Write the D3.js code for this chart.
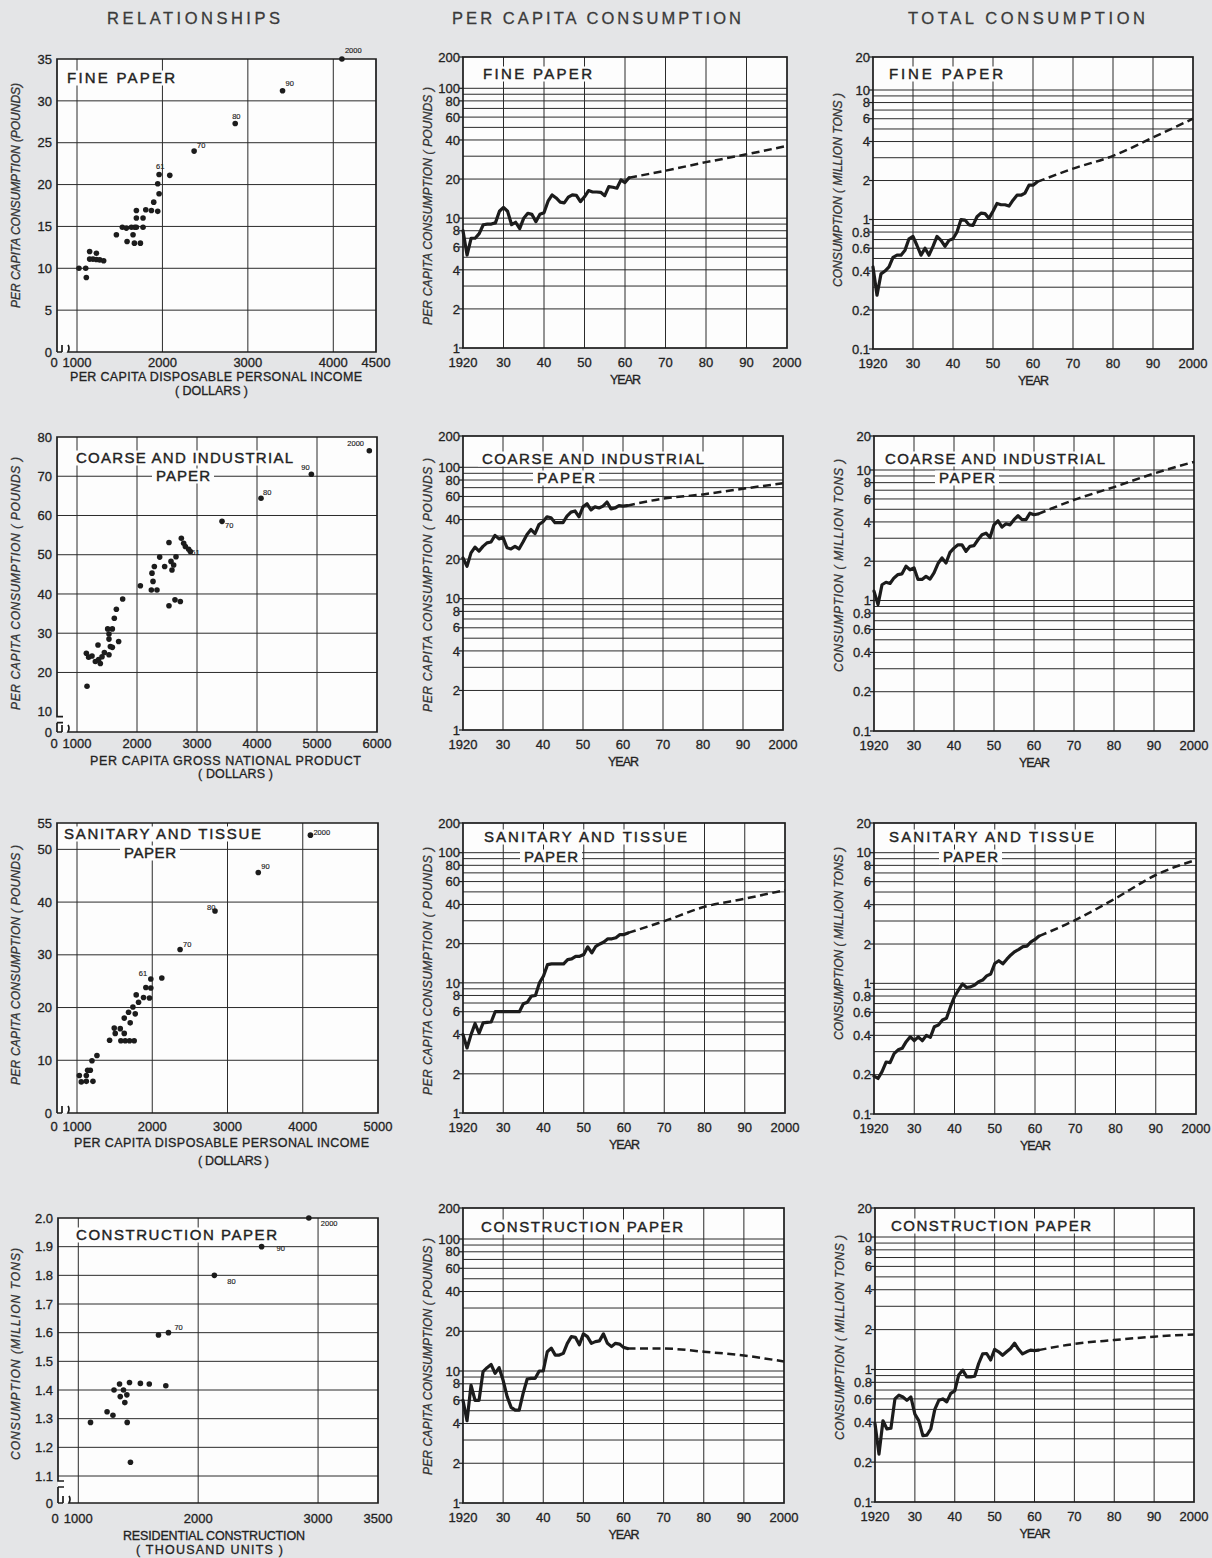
<!DOCTYPE html>
<html><head><meta charset="utf-8">
<script src="https://cdn.jsdelivr.net/npm/d3@7"></script>
<style>
html,body{margin:0;padding:0;background:#e4e5e7;}
svg{display:block;}
text{font-family:"Liberation Sans",Arial,sans-serif;fill:#222;stroke:#222;stroke-width:0.3px;}
</style></head><body>
<svg id="chart" width="1212" height="1558"></svg>
<script>
// ---------------- DATA ----------------
const columnHeaders = ["RELATIONSHIPS", "PER CAPITA CONSUMPTION", "TOTAL CONSUMPTION"];

const yearTicks = [1920, 1930, 1940, 1950, 1960, 1970, 1980, 1990, 2000];
const yearTickLabels = ["1920", "30", "40", "50", "60", "70", "80", "90", "2000"];
const histYears = [1920,1921,1922,1923,1924,1925,1926,1927,1928,1929,1930,1931,1932,1933,1934,1935,1936,1937,1938,1939,1940,1941,1942,1943,1944,1945,1946,1947,1948,1949,1950,1951,1952,1953,1954,1955,1956,1957,1958,1959,1960,1961];
const projYears = [1961, 1970, 1980, 1990, 2000];

const perCapitaTicks = [200, 100, 80, 60, 40, 20, 10, 8, 6, 4, 2, 1];
const perCapitaTickLabels = ["200", "100", "80", "60", "40", "20", "10", "8", "6", "4", "2", "1"];
const perCapitaGrid = [2, 3, 4, 5, 6, 7, 8, 9, 10, 20, 30, 40, 50, 60, 70, 80, 90, 100];
const totalTicks = [20, 10, 8, 6, 4, 2, 1, 0.8, 0.6, 0.4, 0.2, 0.1];
const totalTickLabels = ["20", "10", "8", "6", "4", "2", "1", "0.8", "0.6", "0.4", "0.2", "0.1"];
const totalGrid = [0.2, 0.3, 0.4, 0.5, 0.6, 0.7, 0.8, 0.9, 1, 2, 3, 4, 5, 6, 7, 8, 9, 10];

// Per capita (pounds) and total (million tons), 1920-1961, plus projections
const fineCapHist = [8.0,5.2,7.0,7.0,7.6,8.9,9.0,9.0,9.2,11.3,12.1,11.3,8.9,9.3,8.3,10.0,10.9,10.7,9.4,10.7,11.0,13.5,15.1,14.3,13.3,13.1,14.5,15.1,15.0,13.4,14.6,16.3,15.9,15.9,15.8,14.9,17.5,17.3,17.0,19.7,18.8,20.5];
const fineCapProj = [20.5, 23.2, 27.0, 31.0, 36.0];
const fineTotHist = [0.43,0.26,0.38,0.40,0.43,0.51,0.53,0.53,0.58,0.71,0.74,0.63,0.53,0.60,0.53,0.62,0.74,0.69,0.62,0.69,0.71,0.80,1.00,0.99,0.91,0.90,1.05,1.12,1.11,1.02,1.16,1.33,1.30,1.30,1.27,1.41,1.54,1.54,1.60,1.84,1.84,1.95];
const fineTotProj = [1.95, 2.47, 3.1, 4.3, 6.0];

const coarseCapHist = [20.4,17.6,22.3,24.7,23.0,25.0,26.6,27.0,30.3,28.5,29.3,24.4,23.9,25.0,23.9,27.0,30.8,33.6,31.3,36.7,38.5,42.0,41.3,37.9,37.9,37.9,42.5,45.6,46.5,42.0,50.0,52.8,47.3,50.0,49.0,50.6,54.4,48.3,49.0,51.0,50.6,51.0];
const coarseCapProj = [51.0, 57.7, 62.2, 68.7, 75.5];
const coarseTotHist = [1.18,0.93,1.32,1.38,1.35,1.49,1.58,1.60,1.83,1.72,1.78,1.45,1.45,1.53,1.46,1.63,1.92,2.12,1.94,2.34,2.52,2.67,2.67,2.38,2.60,2.63,2.92,3.19,3.28,3.04,3.80,4.08,3.65,3.87,3.80,4.16,4.46,4.16,4.16,4.67,4.54,4.60];
const coarseTotProj = [4.6, 5.9, 7.4, 9.4, 11.8];

const sanCapHist = [4.0,3.16,4.0,4.87,4.1,4.93,4.97,5.0,6.0,6.0,6.0,6.0,6.0,6.0,6.0,6.9,7.1,7.9,8.0,10.0,11.3,13.8,14.0,14.0,14.0,14.0,15.1,15.3,16.0,16.0,16.5,18.9,17.0,19.1,19.9,20.6,21.8,21.8,22.2,23.5,23.5,24.2];
const sanCapProj = [24.2, 29.8, 38.4, 44.3, 51.6];
const sanTotHist = [0.195,0.187,0.211,0.25,0.247,0.29,0.31,0.318,0.358,0.391,0.364,0.39,0.364,0.40,0.386,0.466,0.48,0.524,0.54,0.663,0.79,0.89,0.99,0.93,0.94,0.97,1.03,1.06,1.14,1.18,1.42,1.49,1.41,1.53,1.65,1.75,1.82,1.91,1.93,2.08,2.17,2.30];
const sanTotProj = [2.30, 3.05, 4.47, 6.75, 8.8];

const conCapHist = [6.0,4.2,7.8,6.0,6.0,9.9,10.6,11.2,9.6,10.6,8.5,6.4,5.3,5.05,5.05,6.8,8.7,8.8,8.8,10.0,10.0,14.0,14.9,13.2,13.2,13.6,16.2,18.2,18.0,15.8,19.1,18.2,16.2,16.7,16.9,19.1,16.2,15.3,16.2,16.0,15.1,14.8];
const conCapProj = [14.8, 14.8, 14.0, 13.1, 11.8];
const conTotHist = [0.39,0.23,0.41,0.356,0.36,0.60,0.64,0.62,0.585,0.62,0.46,0.41,0.317,0.32,0.356,0.50,0.585,0.60,0.57,0.66,0.69,0.91,0.99,0.88,0.88,0.89,1.11,1.31,1.32,1.18,1.42,1.36,1.28,1.36,1.44,1.58,1.42,1.31,1.36,1.40,1.39,1.40];
const conTotProj = [1.40, 1.56, 1.67, 1.77, 1.84];

// Relationship scatters
const fineXTicks = [0, 1000, 2000, 3000, 4000, 4500];
const fineYTicks = [0, 5, 10, 15, 20, 25, 30, 35];
const fineIncome = [1023,1102,1109,1148,1227,1148,1187,1227,1266,1312,1461,1531,1578,1637,1586,1656,1676,1695,1695,1695,1672,1742,1773,1773,1805,1871,1898,1945,1945,1961,1961,2086,2371,2852,3406,4101];
const finePerCap = [10,10,8.9,12.0,11.8,11.1,11.1,11.05,11.0,10.9,14.0,14.9,14.8,14.9,13.2,14.0,14.9,16.9,16.0,14.9,13.0,13.0,16.0,14.9,17.0,16.9,17.9,16.8,20.1,18.9,21.2,21.1,24.0,27.3,31.2,35.0];
const fineLabels = ["","","","","","","","","","","","","","","","","","","","","","","","","","","","","","","61","","70","80","90","2000"];

const coarseXTicks = [0, 1000, 2000, 3000, 4000, 5000, 6000];
const coarseYTicks = [0, 10, 20, 30, 40, 50, 60, 70, 80];
const coarseGnp = [1167,1156,1194,1250,1350,1306,1361,1389,1417,1456,1511,1533,1533,1533,1556,1589,1589,1622,1656,1694,1761,2056,2250,2267,2239,2333,2289,2378,2461,2533,2533,2567,2583,2611,2650,2633,2722,2739,2778,2806,2861,2889,3417,4067,4906,5872];
const coarsePerCap = [16.5,24.9,23.9,24.2,27.0,22.8,23.3,22.3,24.0,25.1,31.1,29.8,28.5,24.5,26.6,26.4,31.1,33.8,36.1,27.9,38.7,42.1,45.3,43.2,41.0,41.0,47.0,49.4,47.0,53.1,37.0,48.3,46.1,47.4,49.5,38.5,38.1,54.2,52.9,52.1,51.4,50.8,58.5,64.4,70.5,76.5];
const coarseLabels = ["","","","","","","","","","","","","","","","","","","","","","","","","","","","","","","","","","","","","","","","","","61","70","80","90","2000"];

const sanXTicks = [0, 1000, 2000, 3000, 4000, 5000];
const sanYTicks = [0, 10, 20, 30, 40, 50, 55];
const sanIncome = [1031,1057,1124,1177,1141,1124,1212,1199,1265,1433,1495,1508,1575,1628,1583,1641,1698,1760,1628,1685,1707,1743,1774,1787,1818,1884,1915,1963,1981,1981,2127,2370,2834,3409,4102];
const sanPerCap = [7.1,5.9,7.1,8.1,8.1,6.0,6.0,9.9,10.9,13.8,16.1,15.1,16.0,15.1,13.7,13.7,13.7,13.7,18.0,19.1,17.1,20.1,18.8,22.4,21.0,21.9,23.8,21.8,23.7,25.4,25.6,31.0,38.3,45.6,52.7];
const sanLabels = ["","","","","","","","","","","","","","","","","","","","","","","","","","","","","","61","","70","80","90","2000"];

const conXTicks = [0, 1000, 2000, 3000, 3500];
const conYTicks = [0, 1.1, 1.2, 1.3, 1.4, 1.5, 1.6, 1.7, 1.8, 1.9, 2.0];
const conYTickLabels = ["0", "1.1", "1.2", "1.3", "1.4", "1.5", "1.6", "1.7", "1.8", "1.9", "2.0"];
const conHousing = [1102,1240,1289,1298,1344,1350,1377,1388,1405,1408,1427,1435,1518,1592,1669,1730,1752,2135,2529,2923];
const conTons = [1.287,1.324,1.312,1.40,1.421,1.377,1.40,1.356,1.383,1.287,1.426,1.148,1.423,1.421,1.592,1.415,1.60,1.80,1.90,2.00];
const conLabels = ["","","","","","","","","","","","","","","","","70","80","90","2000"];

// ---------------- DRAWING ----------------
const svg = d3.select('#chart');
const BG = '#e4e5e7', WHITE = '#fdfdfd', INK = '#1c1c1c', GRID = '#2b2b2b';
svg.append('rect').attr('width', 1212).attr('height', 1558).attr('fill', BG);

function spanText(g, str, a, b, yc, size, extra) {
  const t = g.append('text').attr('x', a).attr('y', yc).attr('dy', '0.36em')
    .attr('font-size', size).attr('textLength', b - a).attr('lengthAdjust', 'spacing').text(str);
  if (extra) extra(t);
  return t;
}
function vertText(g, str, x, a, b, size) {
  const len = b - a, yc = (a + b) / 2;
  g.append('text').attr('transform', `translate(${x},${yc}) rotate(-90)`)
    .attr('x', -len / 2).attr('y', 0).attr('dy', '0.36em')
    .attr('font-size', size).attr('font-style', 'italic')
    .style('fill', '#333').style('stroke', '#333')
    .attr('textLength', len).attr('lengthAdjust', 'spacing').text(str);
}
function titleBoxes(g, lines) {
  lines.forEach(L => {
    g.append('rect').attr('x', L.a - 4).attr('y', L.y - 7.5).attr('width', L.b - L.a + 8).attr('height', 15).attr('fill', WHITE);
    spanText(g, L.t, L.a, L.b, L.y, 15, t => t.style('stroke-width', '0.4px'));
  });
}

// Column headers
const headerSpans = [[107, 280], [452, 741], [908, 1145]];
columnHeaders.forEach((h, i) => {
  spanText(svg, h, headerSpans[i][0], headerSpans[i][1], 18, 16.5, t => t.style('fill', '#3a3a3a').style('stroke', '#3a3a3a'));
});

// ---------- time-series (log) panels ----------
function logPanel(c) {
  const g = svg.append('g');
  const x = d3.scaleLinear().domain([1920, 2000]).range([c.x0, c.x1]);
  const y = d3.scaleLog().domain([c.lo, c.lo * 100, c.lo * 200]).range([c.y1, c.yMid, c.y0]);
  g.append('rect').attr('x', c.x0).attr('y', c.y0).attr('width', c.x1 - c.x0).attr('height', c.y1 - c.y0).attr('fill', WHITE);
  const grid = c.total ? totalGrid : perCapitaGrid;
  g.selectAll('line.h').data(grid).join('line')
    .attr('x1', c.x0).attr('x2', c.x1).attr('y1', d => y(d)).attr('y2', d => y(d))
    .attr('stroke', GRID).attr('stroke-width', 1);
  g.selectAll('line.v').data(yearTicks.slice(1, -1)).join('line')
    .attr('y1', c.y0).attr('y2', c.y1).attr('x1', d => x(d)).attr('x2', d => x(d))
    .attr('stroke', GRID).attr('stroke-width', 1);
  titleBoxes(g, c.title);
  // data
  const line = d3.line().x(d => x(d[0])).y(d => y(d[1]));
  g.append('path').datum(histYears.map((yr, i) => [yr, c.hist[i]]))
    .attr('d', line).attr('fill', 'none').attr('stroke', INK).attr('stroke-width', 3.2)
    .attr('stroke-linejoin', 'round').attr('stroke-linecap', 'round');
  g.append('path').datum(projYears.map((yr, i) => [yr, c.proj[i]]))
    .attr('d', line.curve(d3.curveMonotoneX)).attr('fill', 'none').attr('stroke', INK).attr('stroke-width', 2.5)
    .attr('stroke-dasharray', '8,4.5');
  // frame
  g.append('rect').attr('x', c.x0).attr('y', c.y0).attr('width', c.x1 - c.x0).attr('height', c.y1 - c.y0)
    .attr('fill', 'none').attr('stroke', INK).attr('stroke-width', 1.7);
  // y ticks
  const ticks = c.total ? totalTicks : perCapitaTicks;
  const tlabels = c.total ? totalTickLabels : perCapitaTickLabels;
  g.selectAll('line.t').data(ticks).join('line')
    .attr('x1', c.x0 - 4).attr('x2', c.x0).attr('y1', d => y(d)).attr('y2', d => y(d))
    .attr('stroke', INK).attr('stroke-width', 1.2);
  g.selectAll('text.yt').data(ticks).join('text')
    .attr('x', c.x0 - 3).attr('y', d => y(d)).attr('dy', '0.36em').attr('text-anchor', 'end')
    .attr('font-size', 13).text((d, i) => tlabels[i]);
  // x ticks
  g.selectAll('text.xt').data(yearTicks).join('text')
    .attr('x', d => x(d)).attr('y', c.y1 + 14).attr('dy', '0.36em').attr('text-anchor', 'middle')
    .attr('font-size', 13).text((d, i) => yearTickLabels[i]);
  const xc = (c.x0 + c.x1) / 2;
  spanText(g, 'YEAR', xc - 15, xc + 16, c.y1 + 31, 12.5);
  vertText(g, c.yTitle, c.x0 - 35, c.yA, c.yB, 12);
}

// ---------- scatter panels ----------
function scatterPanel(c) {
  const g = svg.append('g');
  const x = d3.scaleLinear().domain([0, 1000, c.xMax]).range([c.x0, c.x1000, c.x1]);
  const y = c.yBreak != null
    ? d3.scaleLinear().domain([0, c.yBreak, c.yMax]).range([c.y1, c.yb, c.y0])
    : d3.scaleLinear().domain([0, c.yMax]).range([c.y1, c.y0]);
  g.append('rect').attr('x', c.x0).attr('y', c.y0).attr('width', c.x1 - c.x0).attr('height', c.y1 - c.y0).attr('fill', WHITE);
  const vg = c.xTicks.filter(v => v > 0 && v < c.xMax);
  const hg = c.yTicks.filter(v => v > 0 && v < c.yMax && !(c.noGridAt === v));
  g.selectAll('line.v').data(vg).join('line')
    .attr('x1', d => x(d)).attr('x2', d => x(d)).attr('y1', c.y0).attr('y2', c.y1)
    .attr('stroke', GRID).attr('stroke-width', 1);
  g.selectAll('line.h').data(hg).join('line')
    .attr('x1', c.x0).attr('x2', c.x1).attr('y1', d => y(d)).attr('y2', d => y(d))
    .attr('stroke', GRID).attr('stroke-width', 1);
  titleBoxes(g, c.title);
  // frame with breaks
  const x0 = c.x0, x1 = c.x1, y0 = c.y0, y1 = c.y1;
  let d = `M${x0},${y1} H${x0 + 5} M${x0 + 5},${y1} v-7 M${x0 + 11},${y1 - 7} q2,3 0,7 H${x1} V${y0} H${x0}`;
  if (c.yBreak != null) {
    const yb = c.yb;
    d += ` V${yb + 5} h6 M${x0},${yb + 11} h6 M${x0},${yb + 11} V${y1}`;
  } else {
    d += ` V${y1}`;
  }
  g.append('path').attr('d', d).attr('fill', 'none').attr('stroke', INK).attr('stroke-width', 1.7);
  // points
  g.selectAll('circle').data(c.xs.map((v, i) => [v, c.ys[i], c.labels[i]])).join('circle')
    .attr('cx', p => x(p[0])).attr('cy', p => y(p[1])).attr('r', 2.8).attr('fill', INK);
  g.selectAll('text.pl').data(c.xs.map((v, i) => [v, c.ys[i], c.labels[i]]).filter(p => p[2])).join('text')
    .attr('x', p => x(p[0]) + c.off[p[2]][0]).attr('y', p => y(p[1]) + c.off[p[2]][1])
    .attr('font-size', 7.5).style('stroke-width', '0.15px').text(p => p[2]);
  // ticks
  g.selectAll('text.yt').data(c.yTicks).join('text')
    .attr('x', c.x0 - 5).attr('y', v => y(v)).attr('dy', '0.36em').attr('text-anchor', 'end')
    .attr('font-size', 13).text((v, i) => c.yTickLabels ? c.yTickLabels[i] : String(v));
  g.selectAll('text.xt').data(c.xTicks).join('text')
    .attr('x', v => v === 0 ? x(v) - 3 : x(v)).attr('y', c.xLabelY).attr('dy', '0.36em').attr('text-anchor', 'middle')
    .attr('font-size', 13).text(v => String(v));
  c.xTitle.forEach(L => spanText(g, L.t, L.a, L.b, L.y, 12.5));
  vertText(g, c.yTitle, 16, c.yA, c.yB, 12);
}

scatterPanel({
  x0: 57, x1: 376, y0: 59, y1: 352, x1000: 77, xMax: 4500, yMax: 35,
  xTicks: fineXTicks, yTicks: fineYTicks, xs: fineIncome, ys: finePerCap, labels: fineLabels,
  off: { "61": [-3, -6], "70": [3, -3], "80": [-3, -4], "90": [3, -5], "2000": [3, -6] },
  xLabelY: 362,
  title: [{ t: 'FINE  PAPER', a: 67, b: 175, y: 78 }],
  xTitle: [{ t: 'PER CAPITA DISPOSABLE PERSONAL INCOME', a: 70, b: 362, y: 376 }, { t: '( DOLLARS )', a: 175, b: 248, y: 390 }],
  yTitle: 'PER CAPITA CONSUMPTION (POUNDS)', yA: 83, yB: 308
});
scatterPanel({
  x0: 57, x1: 377, y0: 437, y1: 732, x1000: 77, xMax: 6000, yMax: 80, yBreak: 10, yb: 711.7, noGridAt: 10,
  xTicks: coarseXTicks, yTicks: coarseYTicks, xs: coarseGnp, ys: coarsePerCap, labels: coarseLabels,
  off: { "61": [1, 3], "70": [3, 7], "80": [2, -3], "90": [-10, -4], "2000": [-22, -5] },
  xLabelY: 743,
  title: [{ t: 'COARSE AND INDUSTRIAL', a: 76, b: 293, y: 458 }, { t: 'PAPER', a: 156, b: 210, y: 476 }],
  xTitle: [{ t: 'PER CAPITA GROSS NATIONAL PRODUCT', a: 90, b: 361, y: 760 }, { t: '( DOLLARS )', a: 198, b: 273, y: 773 }],
  yTitle: 'PER CAPITA CONSUMPTION ( POUNDS )', yA: 457, yB: 710
});
scatterPanel({
  x0: 57, x1: 378, y0: 823, y1: 1113, x1000: 77, xMax: 5000, yMax: 55,
  xTicks: sanXTicks, yTicks: sanYTicks, xs: sanIncome, ys: sanPerCap, labels: sanLabels,
  off: { "61": [-12, -3], "70": [3, -3], "80": [-8, -1], "90": [3, -4], "2000": [3, 0] },
  xLabelY: 1126,
  title: [{ t: 'SANITARY AND TISSUE', a: 64, b: 261, y: 834 }, { t: 'PAPER', a: 124, b: 176, y: 853 }],
  xTitle: [{ t: 'PER CAPITA DISPOSABLE PERSONAL INCOME', a: 74, b: 369, y: 1142 }, { t: '( DOLLARS )', a: 198, b: 269, y: 1160 }],
  yTitle: 'PER CAPITA CONSUMPTION ( POUNDS )', yA: 845, yB: 1085
});
scatterPanel({
  x0: 58, x1: 378, y0: 1218, y1: 1503, x1000: 78.3, xMax: 3500, yMax: 2.0, yBreak: 1.1, yb: 1476,
  xTicks: conXTicks, yTicks: conYTicks, yTickLabels: conYTickLabels, xs: conHousing, ys: conTons, labels: conLabels,
  off: { "70": [6, -3], "80": [13, 9], "90": [15, 4], "2000": [12, 8] },
  xLabelY: 1518,
  title: [{ t: 'CONSTRUCTION   PAPER', a: 76, b: 277, y: 1235 }],
  xTitle: [{ t: 'RESIDENTIAL CONSTRUCTION', a: 123, b: 305, y: 1535 }, { t: '( THOUSAND UNITS )', a: 136, b: 283, y: 1549 }],
  yTitle: 'CONSUMPTION (MILLION TONS)', yA: 1248, yB: 1460
});

// per capita column
logPanel({ x0: 463, x1: 787, y0: 57, y1: 348, yMid: 88.3, lo: 1, hist: fineCapHist, proj: fineCapProj,
  title: [{ t: 'FINE  PAPER', a: 483, b: 592, y: 74 }], yTitle: 'PER CAPITA CONSUMPTION ( POUNDS )', yA: 87, yB: 325 });
logPanel({ x0: 463, x1: 783, y0: 436, y1: 730, yMid: 467.3, lo: 1, hist: coarseCapHist, proj: coarseCapProj,
  title: [{ t: 'COARSE AND INDUSTRIAL', a: 482, b: 704, y: 459 }, { t: 'PAPER', a: 537, b: 595, y: 478 }],
  yTitle: 'PER CAPITA CONSUMPTION ( POUNDS )', yA: 458, yB: 712 });
logPanel({ x0: 463, x1: 785, y0: 823, y1: 1113, yMid: 852.7, lo: 1, hist: sanCapHist, proj: sanCapProj,
  title: [{ t: 'SANITARY AND TISSUE', a: 484, b: 687, y: 837 }, { t: 'PAPER', a: 524, b: 578, y: 857 }],
  yTitle: 'PER CAPITA CONSUMPTION ( POUNDS )', yA: 847, yB: 1095 });
logPanel({ x0: 463, x1: 784, y0: 1208, y1: 1503, yMid: 1239, lo: 1, hist: conCapHist, proj: conCapProj,
  title: [{ t: 'CONSTRUCTION   PAPER', a: 481, b: 683, y: 1227 }],
  yTitle: 'PER CAPITA CONSUMPTION ( POUNDS )', yA: 1238, yB: 1475 });

// total column
logPanel({ x0: 873, x1: 1193, y0: 57, y1: 349, yMid: 90, lo: 0.1, total: true, hist: fineTotHist, proj: fineTotProj,
  title: [{ t: 'FINE  PAPER', a: 889, b: 1003, y: 74 }], yTitle: 'CONSUMPTION ( MILLION TONS )', yA: 93, yB: 287 });
logPanel({ x0: 874, x1: 1194, y0: 436, y1: 731, yMid: 470, lo: 0.1, total: true, hist: coarseTotHist, proj: coarseTotProj,
  title: [{ t: 'COARSE AND INDUSTRIAL', a: 885, b: 1105, y: 459 }, { t: 'PAPER', a: 939, b: 995, y: 478 }],
  yTitle: 'CONSUMPTION ( MILLION TONS )', yA: 459, yB: 672 });
logPanel({ x0: 874, x1: 1196, y0: 823, y1: 1114, yMid: 852.7, lo: 0.1, total: true, hist: sanTotHist, proj: sanTotProj,
  title: [{ t: 'SANITARY AND TISSUE', a: 889, b: 1094, y: 837 }, { t: 'PAPER', a: 943, b: 998, y: 857 }],
  yTitle: 'CONSUMPTION ( MILLION TONS )', yA: 847, yB: 1040 });
logPanel({ x0: 875, x1: 1194, y0: 1208, y1: 1502, yMid: 1237, lo: 0.1, total: true, hist: conTotHist, proj: conTotProj,
  title: [{ t: 'CONSTRUCTION   PAPER', a: 891, b: 1091, y: 1226 }],
  yTitle: 'CONSUMPTION ( MILLION TONS )', yA: 1235, yB: 1440 });
</script>
</body></html>
